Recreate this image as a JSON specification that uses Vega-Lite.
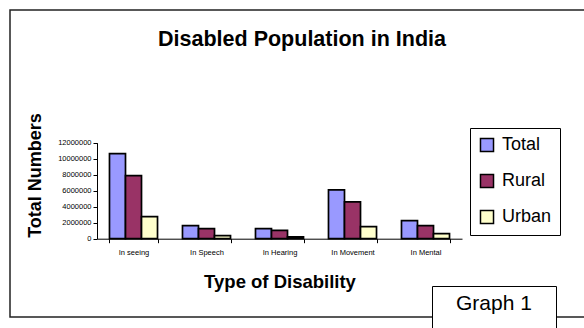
{
  "$schema": "https://vega.github.io/schema/vega-lite/v6.json",
  "width": 578,
  "height": 307,
  "autosize": {"type": "none"},
  "padding": {"left": 10, "top": 10, "right": -4, "bottom": 11},
  "background": "white",
  "config": {
    "font": "Liberation Sans",
    "view": {"stroke": "#222", "strokeWidth": 1.5}
  },
  "title": {
    "text": "Disabled Population in India",
    "font": "Liberation Sans",
    "fontSize": 21.5,
    "fontWeight": "bold",
    "color": "black",
    "anchor": "middle",
    "frame": "group",
    "baseline": "alphabetic",
    "offset": -57,
    "dx": 3
  },
  "data": {
    "values": [
      {"type": "In seeing", "area": "Total", "count": 10634881},
      {"type": "In seeing", "area": "Rural", "count": 7873383},
      {"type": "In seeing", "area": "Urban", "count": 2761498},
      {"type": "In Speech", "area": "Total", "count": 1640868},
      {"type": "In Speech", "area": "Rural", "count": 1268444},
      {"type": "In Speech", "area": "Urban", "count": 372424},
      {"type": "In Hearing", "area": "Total", "count": 1261722},
      {"type": "In Hearing", "area": "Rural", "count": 1035206},
      {"type": "In Hearing", "area": "Urban", "count": 226516},
      {"type": "In Movement", "area": "Total", "count": 6105477},
      {"type": "In Movement", "area": "Rural", "count": 4595062},
      {"type": "In Movement", "area": "Urban", "count": 1510415},
      {"type": "In Mental", "area": "Total", "count": 2263821},
      {"type": "In Mental", "area": "Rural", "count": 1628346},
      {"type": "In Mental", "area": "Urban", "count": 635475}
    ]
  },
  "mark": {"type": "bar", "strokeWidth": 1.7},
  "encoding": {
    "x": {
      "field": "type",
      "type": "nominal",
      "sort": ["In seeing", "In Speech", "In Hearing", "In Movement", "In Mental"],
      "scale": {"range": [87, 452], "paddingInner": 0.342, "paddingOuter": 0.171},
      "axis": {
        "title": "Type of Disability",
        "orient": "bottom",
        "offset": -78.3,
        "grid": false,
        "tickBand": "extent",
        "tickSize": 4,
        "tickColor": "black",
        "domainColor": "black",
        "labelAngle": 0,
        "labelFontSize": 7.5,
        "labelColor": "black",
        "labelPadding": 6,
        "titleFontSize": 18.5,
        "titleFontWeight": "bold",
        "titleColor": "black",
        "titlePadding": 16
      }
    },
    "xOffset": {
      "field": "area",
      "type": "nominal",
      "sort": ["Total", "Rural", "Urban"],
      "scale": {"paddingInner": 0, "paddingOuter": 0}
    },
    "y": {
      "field": "count",
      "type": "quantitative",
      "scale": {"domain": [0, 12000000], "range": [228.7, 132.7], "nice": false},
      "axis": {
        "title": "Total Numbers",
        "offset": -87,
        "grid": false,
        "values": [0, 2000000, 4000000, 6000000, 8000000, 10000000, 12000000],
        "format": "d",
        "tickSize": 4,
        "tickColor": "black",
        "domainColor": "black",
        "labelFontSize": 7.5,
        "labelColor": "black",
        "labelPadding": 2,
        "titleFontSize": 18,
        "titleFontWeight": "bold",
        "titleColor": "black",
        "titleX": -53,
        "titleY": 165
      }
    },
    "fill": {
      "field": "area",
      "type": "nominal",
      "sort": ["Total", "Rural", "Urban"],
      "scale": {"domain": ["Total", "Rural", "Urban"], "range": ["#9999FF", "#993366", "#FFFFCC"]},
      "legend": {
        "title": null,
        "orient": "none",
        "legendX": 460,
        "legendY": 118,
        "padding": 8,
        "strokeColor": "black",
        "fillColor": "white",
        "symbolType": "square",
        "symbolSize": 170,
        "symbolStrokeColor": "black",
        "symbolStrokeWidth": 1.5,
        "symbolOpacity": 1,
        "labelFontSize": 18,
        "labelColor": "black",
        "labelOffset": 6,
        "rowPadding": 16
      }
    },
    "stroke": {
      "datum": "Graph 1",
      "scale": {"range": ["black"]},
      "legend": {
        "title": "Graph 1",
        "titleFont": "Liberation Sans",
        "titleFontSize": 21,
        "titleFontWeight": "normal",
        "titleColor": "black",
        "titleBaseline": "alphabetic",
        "titlePadding": 0,
        "orient": "none",
        "legendX": 422,
        "legendY": 276,
        "padding": 24,
        "strokeColor": "black",
        "fillColor": "white",
        "symbolSize": 1,
        "symbolOpacity": 0,
        "symbolStrokeWidth": 0.01,
        "labelExpr": "''",
        "labelFontSize": 1,
        "labelOffset": 0
      }
    }
  }
}
